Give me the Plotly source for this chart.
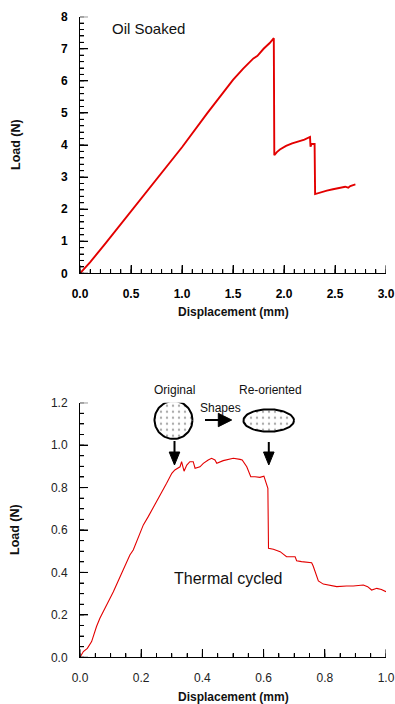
import numpy as np
import plotly.graph_objects as go

# ---------------- data ----------------
oil_disp = [0, 0.10, 0.25, 0.50, 0.75, 1.00, 1.25, 1.50, 1.60, 1.70, 1.74, 1.80, 1.86, 1.90,
            1.905, 1.93, 1.96, 2.02, 2.08, 2.14, 2.20, 2.255,
            2.26, 2.27, 2.30,
            2.305, 2.35, 2.42, 2.48, 2.55, 2.60, 2.63, 2.65, 2.70]
oil_load = [0, 0.35, 0.93, 1.92, 2.92, 3.93, 5.00, 6.03, 6.38, 6.70, 6.78, 7.00, 7.18, 7.33,
            3.68, 3.78, 3.86, 3.97, 4.05, 4.10, 4.17, 4.25,
            3.95, 4.03, 4.03,
            2.47, 2.52, 2.58, 2.62, 2.66, 2.70, 2.67, 2.72, 2.77]

th_disp = [0, 0.011, 0.024, 0.038, 0.054, 0.065, 0.087, 0.109, 0.131, 0.147,
           0.163, 0.174, 0.191, 0.207, 0.223, 0.245, 0.261, 0.283, 0.300, 0.310,
           0.327, 0.332, 0.336, 0.340, 0.349, 0.359, 0.370, 0.376, 0.392, 0.403,
           0.419, 0.430, 0.441, 0.447, 0.468, 0.490, 0.501, 0.523, 0.530, 0.545,
           0.558, 0.572, 0.588, 0.601, 0.610, 0.614, 0.616, 0.632, 0.654, 0.675,
           0.703, 0.708, 0.724, 0.757, 0.762, 0.779, 0.795, 0.839, 0.871, 0.893,
           0.926, 0.940, 0.953, 0.970, 0.985, 1.0]
th_load = [0, 0.027, 0.042, 0.074, 0.145, 0.184, 0.247, 0.309, 0.380, 0.427,
           0.482, 0.506, 0.569, 0.624, 0.663, 0.718, 0.765, 0.820, 0.867, 0.883,
           0.898, 0.922, 0.900, 0.877, 0.906, 0.922, 0.922, 0.891, 0.898, 0.914,
           0.930, 0.938, 0.930, 0.914, 0.927, 0.933, 0.938, 0.933, 0.930, 0.898,
           0.851, 0.851, 0.848, 0.854, 0.820, 0.796, 0.514, 0.509, 0.498, 0.474,
           0.474, 0.455, 0.451, 0.446, 0.430, 0.360, 0.345, 0.333, 0.336, 0.336,
           0.341, 0.333, 0.317, 0.325, 0.320, 0.309]

# axis ranges and tick steps (major, minor)
top_x_range, top_x_steps = [0, 3], (0.5, 0.1)
top_y_range, top_y_steps = [0, 8], (1, 0.2)
bot_x_range, bot_x_steps = [0, 1], (0.2, 0.05)
bot_y_range, bot_y_steps = [0, 1.2], (0.2, 0.05)

# ---------------- layout helpers ----------------
W, H = 395, 704
FONT = "Liberation Sans, Arial, sans-serif"
RED = "#e30000"

# plot areas in window pixels
TOP_L, TOP_R, TOP_T, TOP_B = 80, 386, 16.7, 273.3
BOT_L, BOT_R, BOT_T, BOT_B = 80, 386, 402.7, 657.3
MAJOR_LEN, MINOR_LEN = 8, 4   # inside tick lengths in px


def px_x(p):
    return p / W


def px_y(p):
    return 1 - p / H


def bot_data(px, py):
    """window pixel -> bottom chart data coordinates (for the illustration shapes)"""
    return ((px - BOT_L) / (BOT_R - BOT_L) * bot_x_range[1],
            (BOT_B - py) / (BOT_B - BOT_T) * bot_y_range[1])


fig = go.Figure()

fig.add_trace(go.Scatter(x=oil_disp, y=oil_load, mode="lines",
                         line=dict(color=RED, width=1.9), xaxis="x", yaxis="y",
                         showlegend=False, hoverinfo="skip"))
fig.add_trace(go.Scatter(x=th_disp, y=th_load, mode="lines",
                         line=dict(color=RED, width=1.1), xaxis="x2", yaxis="y2",
                         showlegend=False, hoverinfo="skip"))


# inside tick marks, placed on each axis through the axis scales
def tick_trace(xr, xs, yr, ys, pw, ph, xa, ya):
    px_per_x = pw / (xr[1] - xr[0])
    px_per_y = ph / (yr[1] - yr[0])
    tx, ty = [], []
    for step, ln in ((xs[0], MAJOR_LEN), (xs[1], MINOR_LEN)):
        n = int(round((xr[1] - xr[0]) / step))
        for i in range(n + 1):
            v = xr[0] + i * step
            tx += [v, v, None]
            ty += [yr[0], yr[0] + ln / px_per_y, None]
    for step, ln in ((ys[0], MAJOR_LEN), (ys[1], MINOR_LEN)):
        n = int(round((yr[1] - yr[0]) / step))
        for i in range(n + 1):
            v = yr[0] + i * step
            tx += [xr[0], xr[0] + ln / px_per_x, None]
            ty += [v, v, None]
    return go.Scatter(x=tx, y=ty, mode="lines", line=dict(color="black", width=1),
                      xaxis=xa, yaxis=ya, cliponaxis=False, showlegend=False,
                      hoverinfo="skip", connectgaps=False)


fig.add_trace(tick_trace(top_x_range, top_x_steps, top_y_range, top_y_steps,
                         TOP_R - TOP_L, TOP_B - TOP_T, "x", "y"))
fig.add_trace(tick_trace(bot_x_range, bot_x_steps, bot_y_range, bot_y_steps,
                         BOT_R - BOT_L, BOT_B - BOT_T, "x2", "y2"))

# illustration: stippled circle (original) and ellipse (re-oriented)
t = np.linspace(0, 2 * np.pi, 90)
for cx, cy, a, b in [(173.5, 420, 19, 19), (268.7, 420.5, 25.3, 11.2)]:
    xs, ys = bot_data(cx + a * np.cos(t), cy + b * np.sin(t))
    fig.add_trace(go.Scatter(x=xs, y=ys, mode="lines", cliponaxis=False,
                             fill="toself", fillcolor="white",
                             fillpattern=dict(shape=".", fgcolor="#555", bgcolor="white",
                                              size=6, solidity=0.12),
                             line=dict(color="black", width=2),
                             xaxis="x2", yaxis="y2", showlegend=False, hoverinfo="skip"))


def make_axis(rng, steps, domain, anchor, bold, fmt):
    major, minor = steps
    tf = dict(size=12, family=FONT, color="#000000" if bold else "#222222")
    if bold:
        tf["weight"] = "bold"
    return dict(showline=True, linecolor="#000000", linewidth=1, mirror=False,
                showgrid=False, zeroline=False, ticks="inside", tickcolor="#000000",
                tickwidth=1, ticklen=MAJOR_LEN, ticklabelstandoff=9,
                domain=domain, range=rng, anchor=anchor,
                tickmode="linear", tick0=0, dtick=major, tickformat=fmt,
                tickfont=tf,
                minor=dict(dtick=minor, ticks="inside", ticklen=MINOR_LEN,
                           tickwidth=1, tickcolor="#000000", showgrid=False))


fig.update_layout(
    width=W, height=H, margin=dict(l=0, r=0, t=0, b=0, autoexpand=False),
    paper_bgcolor="white", plot_bgcolor="white",
    font=dict(family=FONT, color="black"),
    xaxis=make_axis(top_x_range, top_x_steps, [px_x(TOP_L), px_x(TOP_R)], "y", True, ".1f"),
    yaxis=make_axis(top_y_range, top_y_steps, [px_y(TOP_B), px_y(TOP_T)], "x", True, "d"),
    xaxis2=make_axis(bot_x_range, bot_x_steps, [px_x(BOT_L), px_x(BOT_R)], "y2", False, ".1f"),
    yaxis2=make_axis(bot_y_range, bot_y_steps, [px_y(BOT_B), px_y(BOT_T)], "x2", False, ".1f"),
)


def pth(points):
    return "M " + " L ".join(f"{px_x(x):.5f} {px_y(y):.5f}" for x, y in points) + " Z"


shapes = []
shapes.append(dict(type="line", xref="paper", yref="paper", opacity=1,
                   x0=px_x(205), y0=px_y(420), x1=px_x(219), y1=px_y(420),
                   line=dict(color="black", width=2)))
shapes.append(dict(type="path", xref="paper", yref="paper", opacity=1,
                   path=pth([(218.3, 413.3), (231.7, 420), (218.3, 426.7)]),
                   fillcolor="black", line=dict(color="black", width=1)))
for ax, y0 in [(174.5, 441), (268.8, 442)]:
    shapes.append(dict(type="line", xref="paper", yref="paper", opacity=1,
                       x0=px_x(ax), y0=px_y(y0), x1=px_x(ax), y1=px_y(453),
                       line=dict(color="black", width=2)))
    shapes.append(dict(type="path", xref="paper", yref="paper", opacity=1,
                       path=pth([(ax - 5.3, 452), (ax + 5.3, 452), (ax, 465)]),
                       fillcolor="black", line=dict(color="black", width=1)))
fig.update_layout(shapes=shapes)

ann = [
    dict(text="Oil Soaked", x=148.3, y=29, size=15, angle=0),
    dict(text="Thermal cycled", x=228.3, y=578.3, size=16, angle=0),
    dict(text="Original", x=174, y=390, size=12, angle=0),
    dict(text="Re-oriented", x=270.7, y=390, size=12, angle=0),
    dict(text="Shapes", x=220, y=407.7, size=12, angle=0),
    dict(text="<b>Displacement (mm)</b>", x=233, y=312, size=12, angle=0),
    dict(text="<b>Displacement (mm)</b>", x=233, y=697, size=12, angle=0),
    dict(text="<b>Load (N)</b>", x=16, y=145, size=12.5, angle=-90),
    dict(text="<b>Load (N)</b>", x=15, y=530, size=12.5, angle=-90),
]
for a in ann:
    fig.add_annotation(text=a["text"], x=px_x(a["x"]), y=px_y(a["y"]), xref="paper", yref="paper",
                       showarrow=False, xanchor="center", yanchor="middle", textangle=a["angle"],
                       font=dict(size=a["size"], family=FONT, color="#111"))

# remove the default page margin so the 395x704 figure fills the window exactly
fig.write_html("out.html", config={"displayModeBar": False},
               post_script="document.body.style.margin='0';document.body.style.overflow='hidden';")
